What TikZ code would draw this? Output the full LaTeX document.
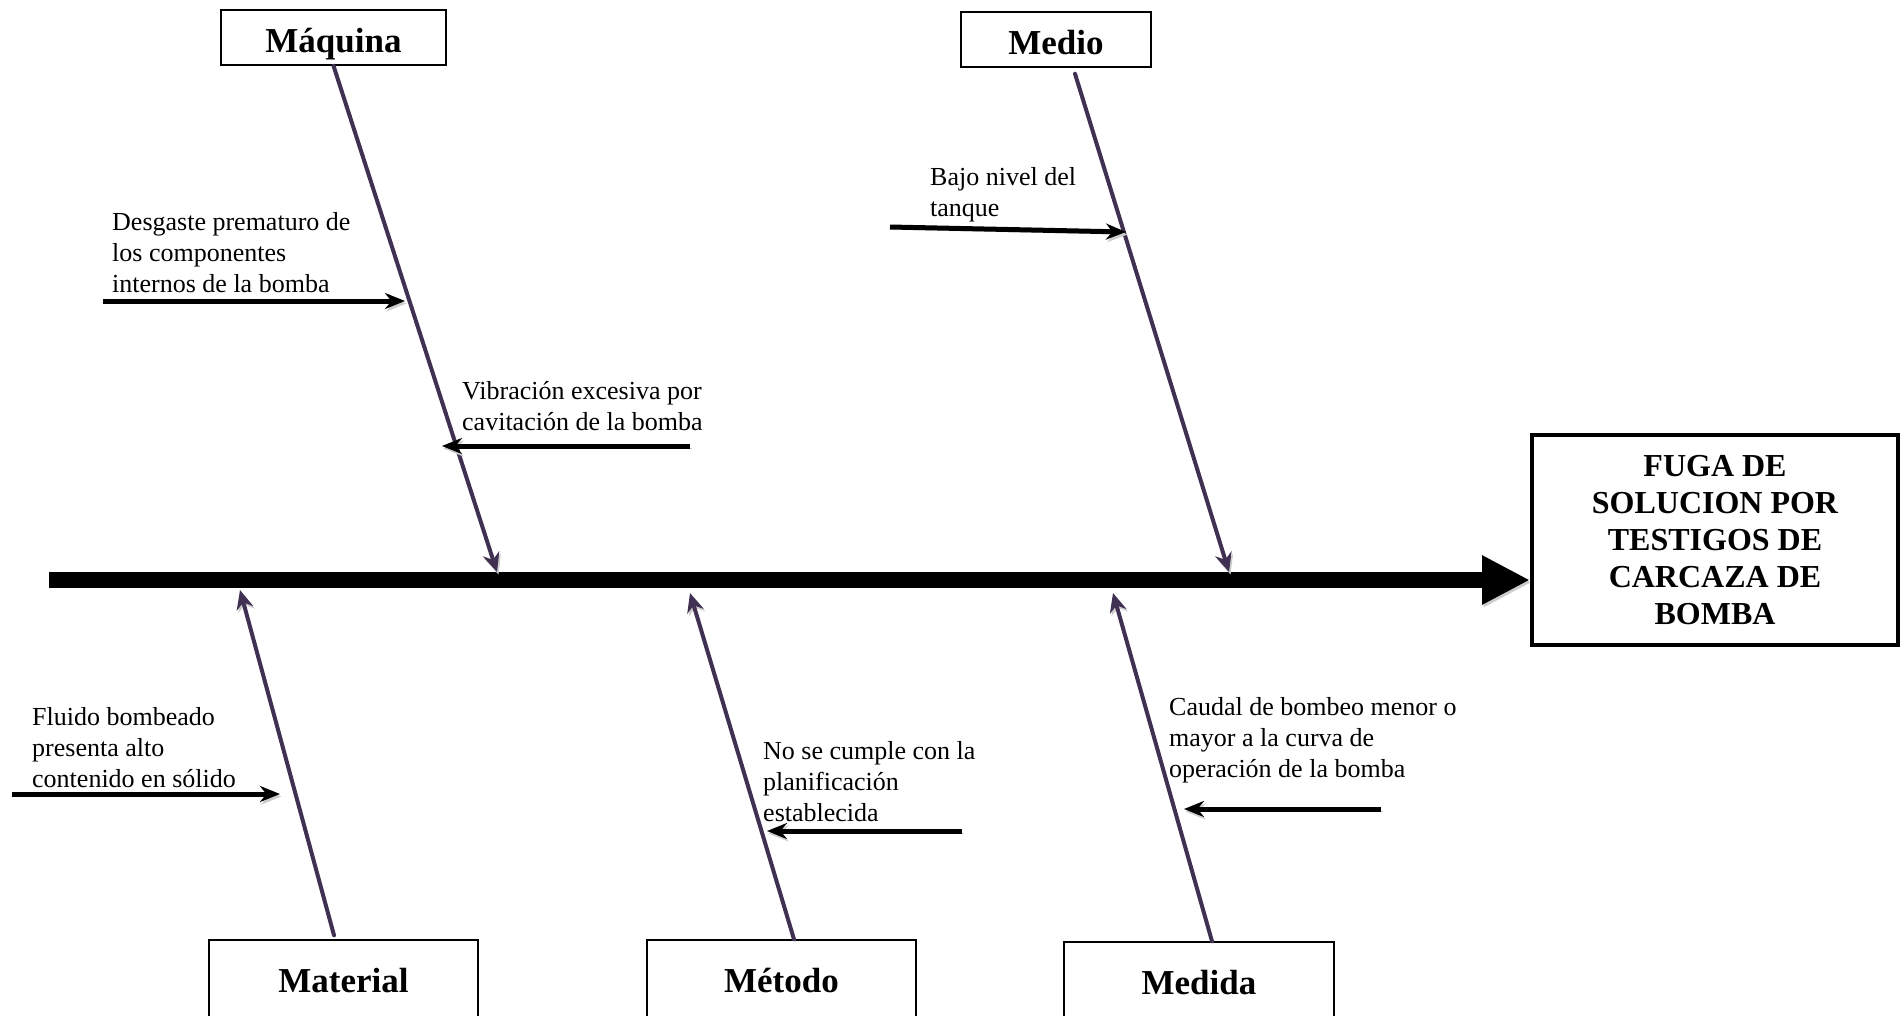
\documentclass[tikz,border=0pt]{standalone}
\usepackage{fontspec}
\setmainfont{Liberation Serif}
\usetikzlibrary{arrows.meta}
\definecolor{bonecol}{RGB}{64,49,82}
\tikzset{
  shadowed/.style={preaction={draw=black!20, transform canvas={shift={(1.5pt,-2.5pt)}}}},
  catbox/.style={draw=black, line width=1.5pt, inner sep=0pt, text height=30pt, text depth=1pt,
    font=\fontsize{35}{40}\selectfont\bfseries},
  lowbox/.style={catbox, text height=26pt, minimum height=80pt},
  effectbox/.style={draw=black, line width=4pt, inner sep=0pt, minimum width=366pt, minimum height=210pt,
    align=center, font=\fontsize{32}{37}\selectfont\bfseries},
  cause/.style={inner sep=0pt, anchor=north west, align=left, font=\fontsize{26}{31}\selectfont},
  spine/.style={line width=16.5pt, black, shadowed, -{Triangle[length=48pt,width=46pt]}},
  bone/.style={line width=4pt, bonecol, shadowed, line cap=round, -{Stealth[length=19pt,width=17pt]}},
  subarrow/.style={line width=5pt, black, shadowed, -{Stealth[length=20pt,width=16pt]}}
}
\begin{document}
\begin{tikzpicture}[x=1pt, y=-1pt]
\useasboundingbox (0,0) rectangle (1904,1015);
\clip (0,0) rectangle (1904,1015);

% effect
\node[effectbox] (effect) at (1715,540) {FUGA DE\\SOLUCION POR\\TESTIGOS DE\\CARCAZA DE\\BOMBA};

% category boxes
\node[catbox, minimum width=225pt, minimum height=55pt] (maq) at (333.5,37.5) {Máquina};
\node[catbox, minimum width=190pt, minimum height=55pt] (medio) at (1056,39.5) {Medio};
\node[lowbox, minimum width=269pt] (mat) at (343.5,980) {Material};
\node[lowbox, minimum width=269pt] (met) at (781.5,980) {Método};
\node[lowbox, minimum width=270pt] (med) at (1199,982) {Medida};

% spine
\coordinate (tail) at (49,580);
\draw[spine] (tail) -- (tail -| effect.west);

% bone ends on the spine
\coordinate (jMaq) at (497,572);
\coordinate (jMedio) at (1229,572);
\coordinate (jMat) at (240,590);
\coordinate (jMet) at (690,593);
\coordinate (jMed) at (1113,593);

\draw[bone] (maq.south) -- (jMaq);
\draw[bone] ([xshift=19pt,yshift=-6pt]medio.south) -- (jMedio);
\draw[bone] ([xshift=-9.5pt,yshift=4pt]mat.north) -- (jMat);
\draw[bone] ([xshift=12.5pt]met.north) -- (jMet);
\draw[bone] ([xshift=13pt]med.north) -- (jMed);

% causes
\node[cause] (c1) at (112,212) {Desgaste prematuro de\\los componentes\\internos de la bomba};
\coordinate (c1s) at (103,301); \coordinate (c1e) at (405,301);
\draw[subarrow] (c1s) -- (c1e);

\node[cause] (c2) at (462,381) {Vibración excesiva por\\cavitación de la bomba};
\coordinate (c2s) at (690,446); \coordinate (c2e) at (442,446);
\draw[subarrow] (c2s) -- (c2e);

\node[cause] (c3) at (930,167) {Bajo nivel del\\tanque};
\coordinate (c3s) at (890,227); \coordinate (c3e) at (1126,232);
\draw[subarrow] (c3s) -- (c3e);

\node[cause] (c4) at (32,707) {Fluido bombeado\\presenta alto\\contenido en sólido};
\coordinate (c4s) at (12,794); \coordinate (c4e) at (280,794);
\draw[subarrow] (c4s) -- (c4e);

\node[cause] (c5) at (763,741) {No se cumple con la\\planificación\\establecida};
\coordinate (c5s) at (962,831); \coordinate (c5e) at (767,831);
\draw[subarrow] (c5s) -- (c5e);

\node[cause] (c6) at (1169,697) {Caudal de bombeo menor o\\mayor a la curva de\\operación de la bomba};
\coordinate (c6s) at (1381,809); \coordinate (c6e) at (1184,809);
\draw[subarrow] (c6s) -- (c6e);
\end{tikzpicture}
\end{document}
